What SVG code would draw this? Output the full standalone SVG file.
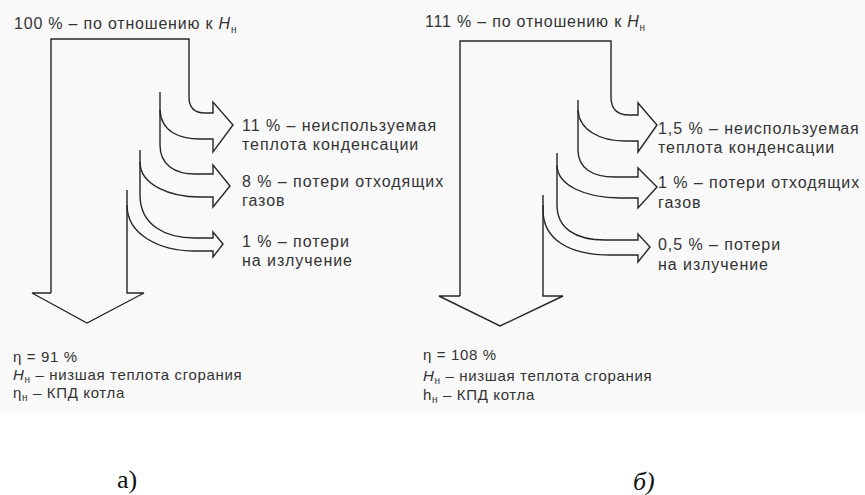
<svg xmlns="http://www.w3.org/2000/svg" width="865" height="495" viewBox="0 0 865 495">
<style>
.ln{fill:none;stroke:#262626;stroke-width:1.4;stroke-linejoin:miter}
.t{font-family:"Liberation Sans",Arial,sans-serif;font-size:16px;fill:#333;letter-spacing:0.95px}
.ti{font-family:"Liberation Sans",Arial,sans-serif;font-size:16px;fill:#333;letter-spacing:0.8px}
.lg{font-family:"Liberation Sans",Arial,sans-serif;font-size:15px;fill:#333;letter-spacing:0.65px}
.sub{font-size:10px}
.it{font-style:italic}
.cap{font-family:"Liberation Serif","Times New Roman",serif;font-size:26px;fill:#111}
</style>
<rect x="0" y="0" width="865" height="495" fill="#ffffff"/>
<rect x="0" y="0" width="865" height="412" fill="#f9f9f9"/>

<!-- Diagram a -->
<g id="a-title"><text class="ti" x="14" y="29">100 % – по отношению к <tspan class="it">H</tspan><tspan class="sub" dy="4">н</tspan></text></g>
<g id="a-connectors">
  <path id="a-main" class="ln" d="M51,293 V39 H189 V97 Q189,113 205,113 H213 V102 L233,125 L213,152 V139 H200 C180,139 161,132 160,110 V92"/>
  <path id="a-8" class="ln" d="M160,110 V145 C160,165 175,174 195,174 H213 V165 L230,186 L213,207 V197 H200 C170,197 140,185 140,162 V150"/>
  <path id="a-1" class="ln" d="M140,162 V195 C140,225 165,238 195,238 H213 V232 L223,244 L213,257 V251 H195 C160,251 127,235 127,205"/>
  <path id="a-out" class="ln" d="M127,190 V293 H144 L87,323 L32,293 H51"/>
</g>
<g id="a-l11"><text class="t" x="242" y="131">11 % – неиспользуемая</text><text class="t" x="242" y="150">теплота конденсации</text></g>
<g id="a-l8"><text class="t" x="242" y="187">8 % – потери отходящих</text><text class="t" x="242" y="206">газов</text></g>
<g id="a-l1"><text class="t" x="242" y="247">1 % – потери</text><text class="t" x="242" y="266">на излучение</text></g>
<g id="a-legend">
  <text class="lg" x="13" y="362">η = 91 %</text>
  <text class="lg" x="13" y="380"><tspan class="it">H</tspan><tspan class="sub" dy="3">н</tspan><tspan dy="-3"> – низшая теплота сгорания</tspan></text>
  <text class="lg" x="13" y="398">η<tspan class="sub" dy="3">н</tspan><tspan dy="-3"> – КПД котла</tspan></text>
</g>
<text class="cap" x="117" y="488">а)</text>

<!-- Diagram b -->
<g id="b-title"><text class="ti" x="425" y="27">111 % – по отношению к <tspan class="it">H</tspan><tspan class="sub" dy="4">н</tspan></text></g>
<g id="b-connectors">
  <path id="b-main" class="ln" d="M460,296 V41 H611 V97 Q611,115 629,115 H638 V103 L657,125 L638,152 V141 H625 C600,141 579,130 578,110 V100"/>
  <path id="b-1" class="ln" d="M578,110 V150 C578,168 592,177 615,177 H638 V168 L657,187 L638,208 V198 H620 C585,198 557,185 557,165 V153"/>
  <path id="b-05" class="ln" d="M557,165 V205 C557,228 575,240 605,240 H638 V234 L650,247 L638,262 V255 H610 C570,255 543,240 543,210 V195"/>
  <path id="b-out" class="ln" d="M543,205 V296 H563 L500,326 L439,296 H460"/>
</g>
<g id="b-l15"><text class="t" x="658" y="134">1,5 % – неиспользуемая</text><text class="t" x="658" y="153">теплота конденсации</text></g>
<g id="b-l1"><text class="t" x="658" y="188">1 % – потери отходящих</text><text class="t" x="658" y="208">газов</text></g>
<g id="b-l05"><text class="t" x="658" y="250">0,5 % – потери</text><text class="t" x="658" y="270">на излучение</text></g>
<g id="b-legend">
  <text class="lg" x="423" y="360">η = 108 %</text>
  <text class="lg" x="423" y="381"><tspan class="it">H</tspan><tspan class="sub" dy="3">н</tspan><tspan dy="-3"> – низшая теплота сгорания</tspan></text>
  <text class="lg" x="423" y="400">h<tspan class="sub" dy="3">н</tspan><tspan dy="-3"> – КПД котла</tspan></text>
</g>
<text class="cap it" x="633" y="490">б)</text>
</svg>
